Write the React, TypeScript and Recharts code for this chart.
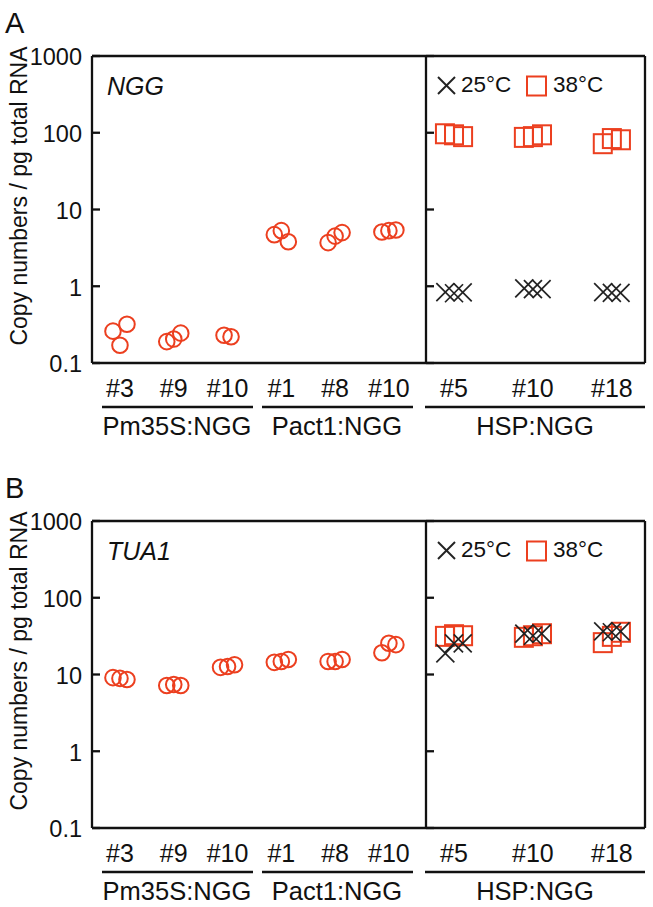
import React from "react";
import { ScatterChart, Scatter, XAxis, YAxis, ReferenceLine } from "recharts";

const FONT = "'Liberation Sans', Arial, Helvetica, sans-serif";
const RED = "#ec3f1f";
const INK = "#111";

// categories
const leftCats = ["#3", "#9", "#10", "#1", "#8", "#10"];
const hspCats = ["#5", "#10", "#18"];
const groupNames = ["Pm35S:NGG", "Pact1:NGG", "HSP:NGG"];
const yTicks = [0.1, 1, 10, 100, 1000];

// panel A, NGG (one list per line, replicates in left-to-right order)
const nggLeft = [
  [0.26, 0.17, 0.32],
  [0.19, 0.205, 0.245],
  [0.23, 0.22],
  [4.7, 5.3, 3.8],
  [3.7, 4.5, 5.0],
  [5.1, 5.3, 5.4],
];
const ngg25 = [
  [0.84, 0.81, 0.83],
  [0.94, 0.92, 0.92],
  [0.84, 0.82, 0.82],
];
const ngg38 = [
  [97, 94, 89],
  [87, 89, 94],
  [72, 84, 81],
];

// panel B, TUA1
const tuaLeft = [
  [9.1, 8.9, 8.6],
  [7.2, 7.4, 7.2],
  [12.4, 12.7, 13.4],
  [14.4, 14.8, 15.7],
  [14.8, 14.8, 15.7],
  [19.2, 25.5, 24.5],
];
const tua25 = [
  [18.8, 25.4, 25.4],
  [34, 32, 34],
  [36.5, 35.5, 36.5],
];
const tua38 = [
  [31.4, 33, 32],
  [30.5, 32, 34],
  [26, 31.4, 35.5],
];

type Pt = { x: number; y: number };

// replicates are spread a little around the category position
function spread(groups: number[][], step: number): Pt[] {
  const out: Pt[] = [];
  groups.forEach((vals, gi) => {
    vals.forEach((v, ri) => {
      out.push({ x: gi + (ri - (vals.length - 1) / 2) * step, y: v });
    });
  });
  return out;
}

const Ring = (p: any) => (
  <circle cx={p.cx} cy={p.cy} r={7.8} fill="none" stroke={RED} strokeWidth={2} />
);
const Box = (p: any) => (
  <rect x={p.cx - 9} y={p.cy - 9.5} width={18} height={19} fill="none" stroke={RED} strokeWidth={2} />
);
const Cross = (p: any) => (
  <g stroke="#222" strokeWidth={1.7}>
    <line x1={p.cx - 9} y1={p.cy - 9} x2={p.cx + 9} y2={p.cy + 9} />
    <line x1={p.cx - 9} y1={p.cy + 9} x2={p.cx + 9} y2={p.cy - 9} />
  </g>
);

const YTickLabel = (p: any) => (
  <g>
    <line x1={p.x + 10} x2={p.x + 18} y1={p.y} y2={p.y} stroke={INK} strokeWidth={2.3} />
    <text x={p.x} y={p.y} dy="0.4em" textAnchor="end" fontSize={23.5} fill={INK} fontFamily={FONT}>
      {String(p.payload.value)}
    </text>
  </g>
);
const YTickMark = (p: any) => (
  <line x1={p.x} x2={p.x + 8} y1={p.y} y2={p.y} stroke={INK} strokeWidth={2.3} />
);

const axisLine = { stroke: INK, strokeWidth: 2.3 };
const xTickStyle = { fontSize: 25, fill: INK, fontFamily: FONT };
const LEFT_DOMAIN: [number, number] = [-0.52, 5.69];
const HSP_DOMAIN: [number, number] = [-0.355, 2.42];

const CH = 440;

function Panel({
  top,
  letter,
  gene,
  left,
  t25,
  t38,
}: {
  top: number;
  letter: string;
  gene: string;
  left: number[][];
  t25: number[][];
  t38: number[][];
}) {
  return (
    <div style={{ position: "absolute", left: 0, top, width: 653, height: CH + 30 }}>
      <div style={{ position: "absolute", left: 0, top: 0 }}>
        <ScatterChart width={426} height={CH} margin={{ top: 56, right: 0, bottom: 0, left: 0 }}>
          <XAxis
            type="number"
            dataKey="x"
            domain={LEFT_DOMAIN}
            ticks={[0, 1, 2, 3, 4, 5]}
            interval={0}
            allowDataOverflow
            height={CH - 363}
            tickLine={false}
            tickSize={0}
            tickMargin={16}
            axisLine={axisLine}
            tick={xTickStyle}
            tickFormatter={(v: number) => leftCats[v]}
          />
          <YAxis
            type="number"
            dataKey="y"
            scale="log"
            domain={[0.1, 1000]}
            ticks={yTicks}
            interval={0}
            allowDataOverflow
            width={92}
            tickLine={false}
            tickSize={0}
            tickMargin={10}
            axisLine={axisLine}
            tick={<YTickLabel />}
          />
          <ReferenceLine y={1000} stroke={INK} strokeWidth={2.3} />
          <Scatter data={spread(left, 0.13)} shape={<Ring />} isAnimationActive={false} />
        </ScatterChart>
      </div>
      <div style={{ position: "absolute", left: 416, top: 0 }}>
        <ScatterChart width={237} height={CH} margin={{ top: 56, right: 8, bottom: 0, left: 0 }}>
          <XAxis
            type="number"
            dataKey="x"
            domain={HSP_DOMAIN}
            ticks={[0, 1, 2]}
            interval={0}
            allowDataOverflow
            height={CH - 363}
            tickLine={false}
            tickSize={0}
            tickMargin={16}
            axisLine={axisLine}
            tick={xTickStyle}
            tickFormatter={(v: number) => hspCats[v]}
          />
          <YAxis
            type="number"
            dataKey="y"
            scale="log"
            domain={[0.1, 1000]}
            ticks={yTicks}
            interval={0}
            allowDataOverflow
            width={10}
            tickLine={false}
            tickSize={0}
            tickMargin={0}
            axisLine={axisLine}
            tick={<YTickMark />}
          />
          <ReferenceLine y={1000} stroke={INK} strokeWidth={2.3} />
          <ReferenceLine x={HSP_DOMAIN[1]} stroke={INK} strokeWidth={2.3} />
          <Scatter data={spread(t38, 0.115)} shape={<Box />} isAnimationActive={false} />
          <Scatter data={spread(t25, 0.11)} shape={<Cross />} isAnimationActive={false} />
        </ScatterChart>
      </div>
      <svg
        width={653}
        height={CH + 30}
        style={{ position: "absolute", left: 0, top: 0, pointerEvents: "none" }}
        fontFamily={FONT}
        fill={INK}
      >
        <text x={5} y={33} fontSize={29}>
          {letter}
        </text>
        <text x={27} y={196} fontSize={23} textAnchor="middle" transform="rotate(-90, 27, 196)">
          Copy numbers / pg total RNA
        </text>
        <text x={107} y={95} fontSize={25} fontStyle="italic">
          {gene}
        </text>
        <g stroke="#222" strokeWidth={2}>
          <line x1={438} y1={77} x2={455} y2={94} />
          <line x1={438} y1={94} x2={455} y2={77} />
        </g>
        <text x={461} y={92} fontSize={22.5}>
          25°C
        </text>
        <rect x={527} y={76.5} width={19} height={19} fill="none" stroke={RED} strokeWidth={2} />
        <text x={553} y={92} fontSize={22.5}>
          38°C
        </text>
        <g stroke={INK} strokeWidth={2.3}>
          <line x1={102} y1={407} x2={253} y2={407} />
          <line x1={262} y1={407} x2={413} y2={407} />
          <line x1={425} y1={407} x2={645} y2={407} />
        </g>
        <text x={177} y={435} fontSize={25.5} textAnchor="middle">
          {groupNames[0]}
        </text>
        <text x={337} y={435} fontSize={25.5} textAnchor="middle">
          {groupNames[1]}
        </text>
        <text x={535} y={435} fontSize={25.5} textAnchor="middle">
          {groupNames[2]}
        </text>
      </svg>
    </div>
  );
}

export default function App() {
  return (
    <div style={{ position: "absolute", left: 0, top: 0, width: 653, height: 907, background: "#fff" }}>
      <Panel top={0} letter="A" gene="NGG" left={nggLeft} t25={ngg25} t38={ngg38} />
      <Panel top={465} letter="B" gene="TUA1" left={tuaLeft} t25={tua25} t38={tua38} />
    </div>
  );
}
